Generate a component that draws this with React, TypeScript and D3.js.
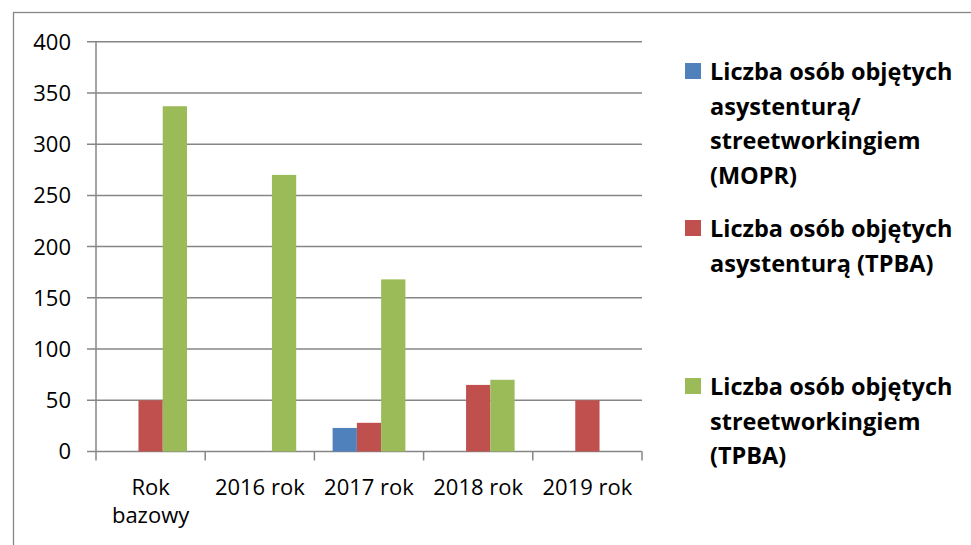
import React from "react";
import * as d3 from "d3";

const categories = [["Rok", "bazowy"], ["2016 rok"], ["2017 rok"], ["2018 rok"], ["2019 rok"]];
const seriesNames = [
  ["Liczba osób objętych", "asystenturą/", "streetworkingiem", "(MOPR)"],
  ["Liczba osób objętych", "asystenturą (TPBA)"],
  ["Liczba osób objętych", "streetworkingiem", "(TPBA)"],
];
const mopr = [0, 0, 23, 0, 0];
const tpbaAsyst = [50, 0, 28, 65, 50];
const tpbaStreet = [337, 270, 168, 70, 0];
const yTicks = [0, 50, 100, 150, 200, 250, 300, 350, 400];
const colors = ["#4F81BD", "#C0504D", "#9BBB59"];
const legendY = [72, 229, 387];

export default function App() {
  const W = 971, H = 545;
  const left = 96, right = 642, top = 41.7, bottom = 451.5;
  const seriesValues = [mopr, tpbaAsyst, tpbaStreet];
  const x = d3.scaleBand<number>().domain(d3.range(categories.length)).range([left, right]).paddingInner(0).paddingOuter(0);
  const y = d3.scaleLinear().domain([0, 400]).range([bottom, top]);
  const bw = x.bandwidth();
  const barW = bw / 4.5;
  const font = "'Open Sans', sans-serif";
  const grid = "#868686";
  return (
    <svg width={W} height={H} style={{ position: "absolute", left: 0, top: 0, background: "#fff" }} fontFamily={font}>
      <rect x={13.5} y={12.5} width={W + 20} height={H + 20} fill="none" stroke="#868686" strokeWidth={1.3} />
      {yTicks.map((t) => (
        <g key={t}>
          <line x1={left - 9} x2={right} y1={y(t)} y2={y(t)} stroke={grid} strokeWidth={1.5} />
          <text x={71} y={y(t)} dy="0.36em" textAnchor="end" fontSize={22} fill="#000">{t}</text>
        </g>
      ))}
      <line x1={left} x2={left} y1={top} y2={bottom} stroke={grid} strokeWidth={1.5} />
      {d3.range(categories.length + 1).map((i) => {
        const xx = left + i * bw;
        return <line key={i} x1={xx} x2={xx} y1={bottom} y2={bottom + 9} stroke={grid} strokeWidth={1.5} />;
      })}
      {seriesValues.map((vals, s) =>
        vals.map((v, i) =>
          v > 0 ? (
            <rect
              key={`${s}-${i}`}
              x={(x(i) as number) + (bw - 3 * barW) / 2 + s * barW}
              y={y(v)}
              width={barW}
              height={y(0) - y(v)}
              fill={colors[s]}
            />
          ) : null
        )
      )}
      {categories.map((lines, i) => (
        <text key={i} x={(x(i) as number) + bw / 2} y={495} textAnchor="middle" fontSize={22} fill="#000">
          {lines.map((l, j) => (
            <tspan key={j} x={(x(i) as number) + bw / 2} dy={j === 0 ? 0 : 28}>{l}</tspan>
          ))}
        </text>
      ))}
      {seriesNames.map((lines, s) => (
        <g key={s}>
          <rect x={685} y={legendY[s] - 9} width={16} height={16} fill={colors[s]} />
          <text x={710} y={legendY[s]} fontSize={23.5} fontWeight="bold" fill="#000">
            {lines.map((l, j) => (
              <tspan key={j} x={710} dy={j === 0 ? "0.36em" : 34.5}>{l}</tspan>
            ))}
          </text>
        </g>
      ))}
    </svg>
  );
}
